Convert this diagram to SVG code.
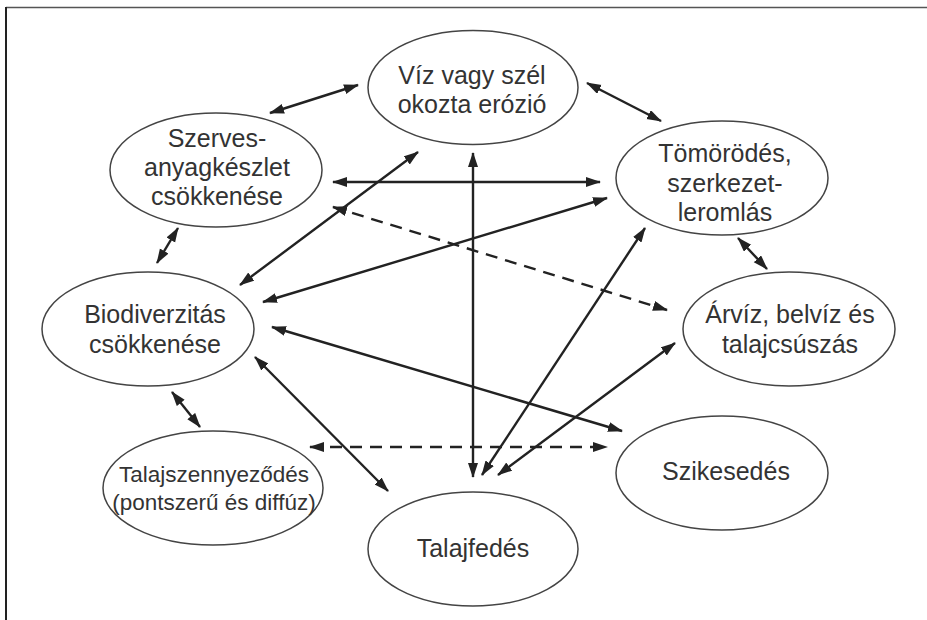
<svg xmlns="http://www.w3.org/2000/svg" width="927" height="620" viewBox="0 0 927 620">
<style>
.node ellipse{fill:#fff;stroke:#444;stroke-width:1.5}
.node text{font-family:"Liberation Sans",Arial,sans-serif;font-size:25px;fill:#333;text-anchor:middle}
.node text.sm{font-size:22.5px}
.edges line{stroke:#222;stroke-width:2.4;marker-start:url(#ah);marker-end:url(#ah)}
.edges line.dash{stroke-dasharray:12 8}
</style>
<defs>
<marker id="ah" markerUnits="userSpaceOnUse" markerWidth="16" markerHeight="12" refX="14" refY="5" orient="auto-start-reverse">
<path d="M0,0 L15,5 L0,10 z" fill="#222"/>
</marker>
</defs>
<rect width="927" height="620" fill="#fff"/>
<line x1="6" y1="7.5" x2="927" y2="7.5" stroke="#555" stroke-width="1.5"/>
<line x1="6" y1="7" x2="6" y2="620" stroke="#222" stroke-width="2"/>
<g class="edges">
<line x1="270" y1="113" x2="358" y2="85"/>
<line x1="587" y1="83" x2="661" y2="121"/>
<line x1="178" y1="228" x2="157" y2="263"/>
<line x1="738" y1="238" x2="767" y2="269"/>
<line x1="333" y1="182" x2="600" y2="182"/>
<line x1="473" y1="153" x2="473" y2="477"/>
<line x1="240" y1="285" x2="418" y2="152"/>
<line x1="263" y1="302" x2="607" y2="198"/>
<line class="dash" x1="333" y1="207" x2="667" y2="310"/>
<line x1="272" y1="327" x2="622" y2="431"/>
<line x1="255" y1="357" x2="388" y2="491"/>
<line x1="172" y1="392" x2="200" y2="427"/>
<line class="dash" x1="310" y1="447" x2="607" y2="447"/>
<line x1="482" y1="475" x2="645" y2="228"/>
<line x1="498" y1="475" x2="675" y2="343"/>
</g>
<g id="viz" class="node"><ellipse cx="473" cy="87.5" rx="105" ry="57"/><text x="472" y="84">Víz vagy szél</text><text x="472" y="113">okozta erózió</text></g>
<g id="szerves" class="node"><ellipse cx="216" cy="170" rx="106" ry="57"/><text x="217" y="147">Szerves-</text><text x="217" y="176">anyagkészlet</text><text x="217" y="205">csökkenése</text></g>
<g id="tomorodes" class="node"><ellipse cx="722" cy="178" rx="106" ry="57"/><text x="725" y="162">Tömörödés,</text><text x="725" y="192">szerkezet-</text><text x="725" y="221">leromlás</text></g>
<g id="biodiverzitas" class="node"><ellipse cx="148" cy="329" rx="106" ry="57"/><text x="155" y="323">Biodiverzitás</text><text x="155" y="353">csökkenése</text></g>
<g id="arviz" class="node"><ellipse cx="789" cy="329" rx="106" ry="57"/><text x="790" y="323">Árvíz, belvíz és</text><text x="790" y="353">talajcsúszás</text></g>
<g id="szikesedes" class="node"><ellipse cx="722" cy="473" rx="106" ry="57"/><text x="726" y="480">Szikesedés</text></g>
<g id="talajszennyezodes" class="node"><ellipse cx="213" cy="488" rx="110" ry="57"/><text class="sm" x="214" y="482">Talajszennyeződés</text><text class="sm" x="214" y="510">(pontszerű és diffúz)</text></g>
<g id="talajfedes" class="node"><ellipse cx="473" cy="549" rx="105" ry="57"/><text x="473" y="557">Talajfedés</text></g>
</svg>
